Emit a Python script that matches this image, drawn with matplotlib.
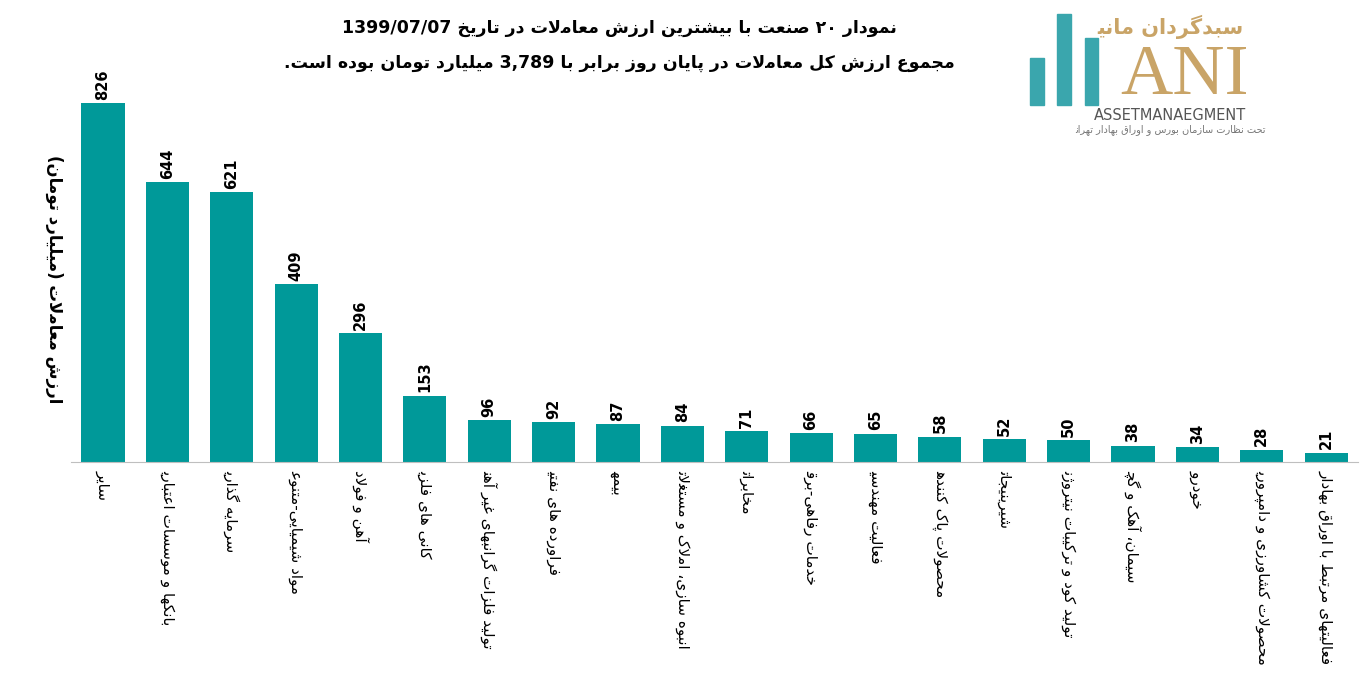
import re
import matplotlib
matplotlib.use("Agg")
import matplotlib.pyplot as plt
from matplotlib.patches import Rectangle

# داده ها
labels = ["سایر", "بانکها و موسسات اعتباری", "سرمایه گذاری", "مواد شیمیایی-متنوع",
          "آهن و فولاد", "کانی های فلزی", "تولید فلزات گرانبهای غیر آهن",
          "فراورده های نفتی", "بیمه", "انبوه سازی، املاک و مستغلات", "مخابرات",
          "خدمات رفاهی-برق", "فعالیت مهندسی", "محصولات پاک کننده", "شیرینیجات",
          "تولید کود و ترکیبات نیتروژن", "سیمان، آهک و گچ", "خودرو",
          "محصولات کشاورزی و دامپروری", "فعالیتهای مرتبط با اوراق بهادار"]
values = [826, 644, 621, 409, 296, 153, 96, 92, 87, 84, 71, 66, 65, 58, 52, 50, 38, 34, 28, 21]

title1 = "نمودار ۲۰ صنعت با بیشترین ارزش معاملات در تاریخ 1399/07/07"
title2 = "مجموع ارزش کل معاملات در پایان روز برابر با 3,789 میلیارد تومان بوده است."
ylab = "ارزش معاملات (میلیارد تومان)"

# شکل دهی ساده حروف فارسی
def r(a, b=None):
    return [chr(c) for c in range(a, a + 4)] if b is None else [chr(a), chr(b)]
FORMS = {
    "ا": r(0xFE8D, 0xFE8E), "آ": r(0xFE81, 0xFE82), "ب": r(0xFE8F), "پ": r(0xFB56),
    "ت": r(0xFE95), "ث": r(0xFE99), "ج": r(0xFE9D), "چ": r(0xFB7A), "ح": r(0xFEA1),
    "خ": r(0xFEA5), "د": r(0xFEA9, 0xFEAA), "ذ": r(0xFEAB, 0xFEAC), "ر": r(0xFEAD, 0xFEAE),
    "ز": r(0xFEAF, 0xFEB0), "ژ": r(0xFB8A, 0xFB8B), "س": r(0xFEB1), "ش": r(0xFEB5),
    "ص": r(0xFEB9), "ض": r(0xFEBD), "ط": r(0xFEC1), "ظ": r(0xFEC5), "ع": r(0xFEC9),
    "غ": r(0xFECD), "ف": r(0xFED1), "ق": r(0xFED5), "ک": r(0xFB8E), "گ": r(0xFB92),
    "ل": r(0xFEDD), "م": r(0xFEE1), "ن": r(0xFEE5), "و": r(0xFEED, 0xFEEE),
    "ه": r(0xFEE9), "ی": ["\uFEEF", "\uFEF0", "\uFEF3", "\uFEF4"],
}

def shape(s):
    s = s.replace("لا", "\uFEFB").replace("لآ", "\uFEF5")
    out = []
    for i, ch in enumerate(s):
        f = FORMS.get(ch)
        if f is None:
            out.append(ch)
            continue
        prev = s[i - 1] if i > 0 else ""
        nxt = s[i + 1] if i + 1 < len(s) else ""
        pj = prev in FORMS and len(FORMS[prev]) == 4
        nj = len(f) == 4 and (nxt in FORMS or nxt in "\uFEFB\uFEF5")
        if pj and nj:
            out.append(f[3])
        elif pj:
            out.append(f[1])
        elif nj:
            out.append(f[2])
        else:
            out.append(f[0])
    return "".join(out)

def fa(s):
    t = shape(s)[::-1]
    t = t.translate(str.maketrans("()", ")("))
    return re.sub(r"[0-9A-Za-z۰-۹][0-9A-Za-z۰-۹,/]*[0-9A-Za-z۰-۹]",
                  lambda m: m.group(0)[::-1], t)

plt.rcParams['font.family'] = ['DejaVu Sans']
teal = "#009999"

fig = plt.figure(figsize=(13.61, 6.99), dpi=100)
ax = fig.add_axes([0.052, 0.339, 0.946, 0.522])
x = range(len(values))
ax.bar(x, values, width=0.67, color=teal)
for i, v in enumerate(values):
    ax.text(i, v + 8, str(v), rotation=90, ha="center", va="bottom",
            fontsize=10.5, fontweight="bold", clip_on=False)
ax.set_xlim(-0.5, len(values) - 0.5)
ax.set_ylim(0, 840)
ax.set_yticks([])
for s in ["top", "right", "left"]:
    ax.spines[s].set_visible(False)
ax.spines["bottom"].set_color("#bfbfbf")
ax.set_xticks(list(x))
ax.set_xticklabels([fa(l) for l in labels], rotation=-90, fontsize=11)
ax.tick_params(axis="x", length=0, pad=6)
fig.text(0.04, 0.6, fa(ylab), rotation=-90, ha="center", va="center",
         fontsize=12, fontweight="bold")

fig.text(0.455, 0.96, fa(title1), ha="center", va="center", fontsize=12.5, fontweight="bold")
fig.text(0.455, 0.91, fa(title2), ha="center", va="center", fontsize=12.5, fontweight="bold")

# لوگو
for (lx, ly, lw, lh) in [(0.757, 0.85, 0.010, 0.067), (0.777, 0.85, 0.010, 0.13),
                         (0.797, 0.85, 0.010, 0.095)]:
    fig.add_artist(Rectangle((lx, ly), lw, lh, transform=fig.transFigure, color="#3aa6ad"))
fig.text(0.87, 0.89, "ANI", ha="center", va="center", fontsize=52,
         family="Liberation Serif", color="#c9a467")
fig.text(0.86, 0.962, fa("سبدگردان مانی"), ha="center", va="center", fontsize=15,
         color="#c9a467", fontweight="bold")
fig.text(0.86, 0.835, "ASSETMANAEGMENT", ha="center", va="center", fontsize=10.5,
         color="#555555")
fig.text(0.86, 0.815, fa("تحت نظارت سازمان بورس و اوراق بهادار تهران"), ha="center",
         va="center", fontsize=7, color="#777777")

fig.savefig("out.png", dpi=100)
